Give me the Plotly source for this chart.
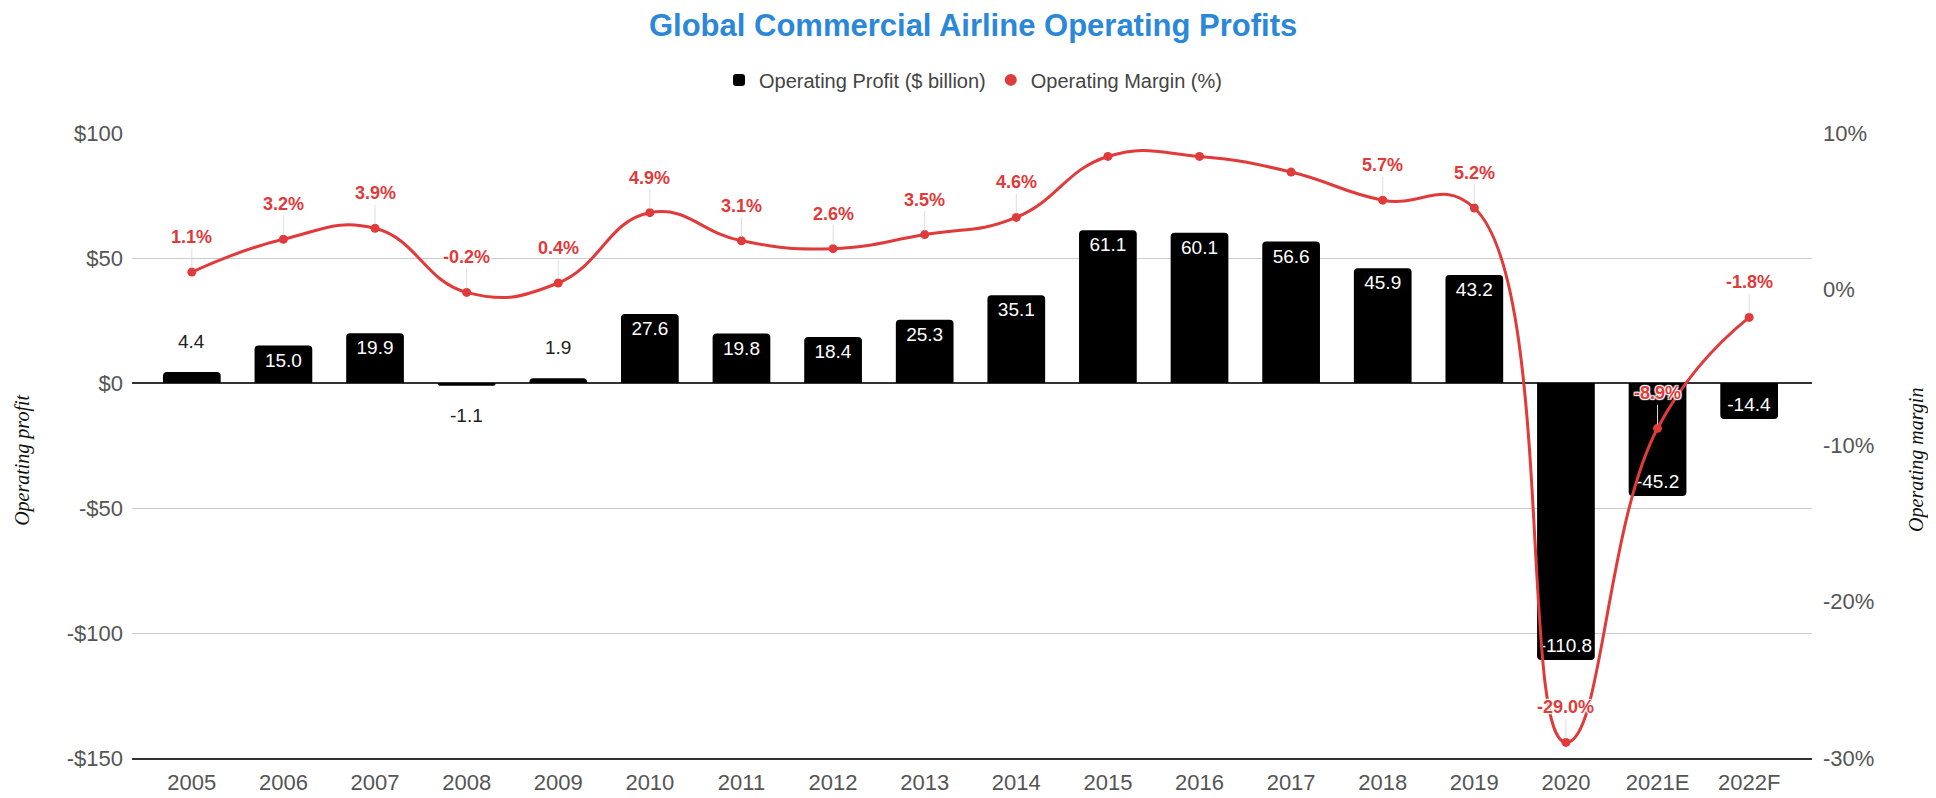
import plotly.graph_objects as go

years = ["2005", "2006", "2007", "2008", "2009", "2010", "2011", "2012", "2013",
         "2014", "2015", "2016", "2017", "2018", "2019", "2020", "2021E", "2022F"]
profit = [4.4, 15.0, 19.9, -1.1, 1.9, 27.6, 19.8, 18.4, 25.3,
          35.1, 61.1, 60.1, 56.6, 45.9, 43.2, -110.8, -45.2, -14.4]
margin = [1.1, 3.2, 3.9, -0.2, 0.4, 4.9, 3.1, 2.6, 3.5,
          4.6, 8.5, 8.5, 7.5, 5.7, 5.2, -29.0, -8.9, -1.8]
# years whose margin labels are visible in the source chart
margin_label_years = ["2005", "2006", "2007", "2008", "2009", "2010", "2011", "2012",
                      "2013", "2014", "2018", "2019", "2020", "2021E", "2022F"]
# bars whose value label sits outside the bar
outside_label_years = ["2005", "2008", "2009"]

left_tickvals = [100, 50, 0, -50, -100, -150]
left_ticktext = ["$100", "$50", "$0", "-$50", "-$100", "-$150"]
right_tickvals = [10, 0, -10, -20, -30]
right_ticktext = ["10%", "0%", "-10%", "-20%", "-30%"]

RED = "#e03a3a"
BLUE = "#2b87d8"
GREY = "#555555"
FONT = "Liberation Sans, Arial, sans-serif"
SERIF = "Liberation Serif, Times New Roman, serif"

fig = go.Figure()

bar_text = [f"{v:.1f}" for v in profit]
bar_pos = ["none" if y in outside_label_years else "inside" for y in years]

fig.add_trace(go.Bar(
    x=years, y=profit, name="Operating Profit ($ billion)",
    marker=dict(color="black", line=dict(width=0)),
    text=bar_text, textposition=bar_pos, insidetextanchor="end",
    insidetextfont=dict(color="white", size=19, family=FONT),
    textangle=0, cliponaxis=False, hoverinfo="skip",
    yaxis="y",
))

fig.add_trace(go.Scatter(
    x=years, y=margin, name="Operating Margin (%)", yaxis="y2",
    mode="lines+markers", line=dict(color=RED, width=3, shape="spline", smoothing=1.3),
    marker=dict(color=RED, size=9), showlegend=False, cliponaxis=False,
))
fig.add_trace(go.Scatter(
    x=[years[0]], y=[None], name="Operating Margin (%)", yaxis="y2",
    mode="markers", marker=dict(color=RED, size=16), showlegend=True,
))

annotations = []
for i, (y, v, t) in enumerate(zip(years, profit, bar_text)):
    if y in outside_label_years:
        annotations.append(dict(
            x=i, y=v, xref="x", yref="y", text=t, showarrow=False,
            yshift=31 if v >= 0 else -30,
            font=dict(size=19, color="#222222", family=FONT),
        ))

halo = ("1px 1px 1px white, -1px -1px 1px white, 1px -1px 1px white, "
        "-1px 1px 1px white, 0px 0px 2px white")
for i, (y, m) in enumerate(zip(years, margin)):
    if y in margin_label_years:
        annotations.append(dict(
            x=i, y=m, xref="x", yref="y2", text=f"{m:.1f}%",
            showarrow=True, arrowhead=0, arrowwidth=1, arrowcolor="#dddddd",
            ax=0, ay=-35, standoff=4,
            font=dict(size=18, color=RED, family=FONT, weight="bold", shadow=halo),
        ))

annotations.append(dict(
    text="Operating profit", xref="paper", yref="paper", x=-0.0649, y=0.477,
    xanchor="center", yanchor="middle", textangle=-90, showarrow=False,
    font=dict(family=SERIF, size=20, style="italic", color="#111111"),
))
annotations.append(dict(
    text="Operating margin", xref="paper", yref="paper", x=1.0625, y=0.477,
    xanchor="center", yanchor="middle", textangle=-90, showarrow=False,
    font=dict(family=SERIF, size=20, style="italic", color="#111111"),
))

fig.update_layout(
    width=1936, height=798,
    margin=dict(l=124, r=132, t=125, b=48),
    paper_bgcolor="white", plot_bgcolor="white",
    font=dict(family=FONT, color=GREY),
    title=dict(text="<b>Global Commercial Airline Operating Profits</b>",
               x=0.4985, xanchor="center", y=0.979, yanchor="middle",
               font=dict(size=31, color=BLUE, family=FONT)),
    legend=dict(orientation="h", x=0.5006, xanchor="center", y=1.085, yanchor="middle",
                font=dict(size=20, color="#444444", family=FONT),
                itemsizing="constant", traceorder="normal"),
    bargap=0.37, barcornerradius=4,
    uniformtext=dict(minsize=19, mode="show"),
    xaxis=dict(type="category", categoryorder="array", categoryarray=years,
               range=[-0.653, len(years) - 1 + 0.686],
               showgrid=False, showline=True, linecolor="#333333",
               linewidth=1.5, ticks="", tickfont=dict(size=22, color=GREY),
               ticklabelstandoff=4),
    yaxis=dict(range=[-150, 100], tickvals=left_tickvals, ticktext=left_ticktext,
               showgrid=True, gridcolor="#cccccc", gridwidth=1,
               zeroline=True, zerolinecolor="#333333", zerolinewidth=1.5,
               showline=False, ticks="", tickfont=dict(size=22, color=GREY),
               ticklabelstandoff=8),
    yaxis2=dict(range=[-30, 10], tickvals=right_tickvals, ticktext=right_ticktext,
                overlaying="y", side="right", showgrid=False, zeroline=False,
                showline=False, ticks="", tickfont=dict(size=22, color=GREY),
                ticklabelstandoff=10),
    annotations=annotations,
    hovermode=False,
)

fig.write_html("out.html")
